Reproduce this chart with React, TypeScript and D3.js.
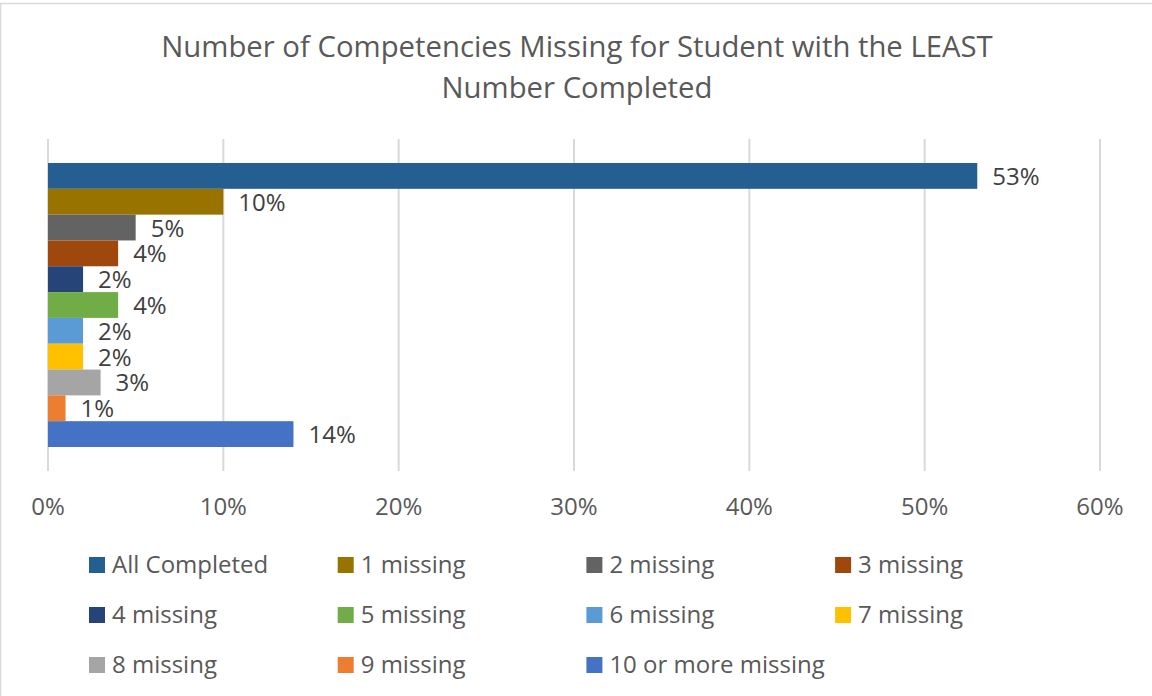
import React from "react";
import * as d3 from "d3";

const seriesNames = [
  "All Completed",
  "1 missing",
  "2 missing",
  "3 missing",
  "4 missing",
  "5 missing",
  "6 missing",
  "7 missing",
  "8 missing",
  "9 missing",
  "10 or more missing",
];
const seriesValues = [0.53, 0.1, 0.05, 0.04, 0.02, 0.04, 0.02, 0.02, 0.03, 0.01, 0.14];
const seriesColors = [
  "#255E91",
  "#997300",
  "#636363",
  "#9E480E",
  "#264478",
  "#70AD47",
  "#5B9BD5",
  "#FFC000",
  "#A5A5A5",
  "#ED7D31",
  "#4472C4",
];
const xTicks = [0, 0.1, 0.2, 0.3, 0.4, 0.5, 0.6];
const titleLines = ["Number of Competencies Missing for Student with the LEAST", "Number Completed"];

const W = 1152;
const H = 696;
const FONT = "'Open Sans', 'Noto Sans', sans-serif";

export default function App() {
  const plotLeft = 48;
  const plotRight = 1100;
  const plotTop = 139;
  const plotBottom = 471;
  const x = d3.scaleLinear().domain([0, 0.6]).range([plotLeft, plotRight]);
  const band = d3
    .scaleBand<string>()
    .domain(seriesNames)
    .range([163, 447])
    .paddingInner(0);
  const pct = d3.format(".0%");

  const legendCols = 4;
  const legendX0 = 89;
  const legendDx = 248.7;
  const legendY0 = 557;
  const legendDy = 50;

  return (
    <svg
      width={W}
      height={H}
      style={{ position: "absolute", left: 0, top: 0, background: "#fff" }}
      fontFamily={FONT}
    >
      <rect x={0.5} y={3.5} width={W + 10} height={H + 10} fill="#fff" stroke="#d9d9d9" strokeWidth={1.5} />
      {titleLines.map((t, i) => (
        <text key={i} x={577} y={57 + i * 41} textAnchor="middle" fontSize={29.3} fill="#595959">
          {t}
        </text>
      ))}
      {xTicks.map((t) => (
        <line
          key={"g" + t}
          x1={x(t)}
          x2={x(t)}
          y1={plotTop}
          y2={plotBottom}
          stroke="#d9d9d9"
          strokeWidth={2}
        />
      ))}
      {seriesNames.map((s, i) => (
        <g key={s}>
          <rect
            x={x(0)}
            y={band(s)!}
            width={x(seriesValues[i]) - x(0)}
            height={band.bandwidth()}
            fill={seriesColors[i]}
          />
          <text
            x={x(seriesValues[i]) + 15}
            y={band(s)! + band.bandwidth() / 2 + 9}
            fontSize={24}
            fill="#404040"
          >
            {pct(seriesValues[i])}
          </text>
        </g>
      ))}
      {xTicks.map((t) => (
        <text key={"t" + t} x={x(t)} y={515} textAnchor="middle" fontSize={24} fill="#595959">
          {pct(t)}
        </text>
      ))}
      {seriesNames.map((s, i) => {
        const col = i % legendCols;
        const row = Math.floor(i / legendCols);
        const lx = legendX0 + col * legendDx;
        const ly = legendY0 + row * legendDy;
        return (
          <g key={"l" + s}>
            <rect x={lx} y={ly} width={16} height={16} fill={seriesColors[i]} />
            <text x={lx + 23} y={ly + 16} fontSize={24} fill="#595959">
              {s}
            </text>
          </g>
        );
      })}
    </svg>
  );
}
